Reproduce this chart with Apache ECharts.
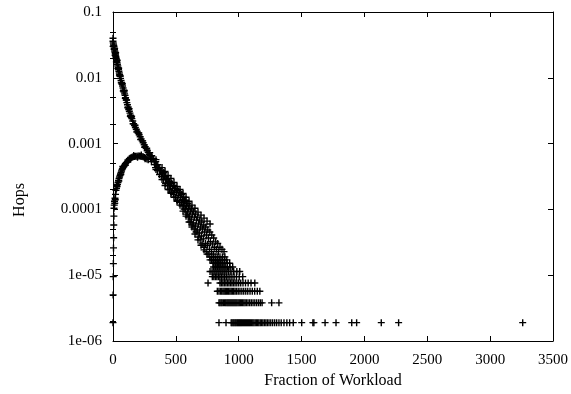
<!DOCTYPE html>
<html>
<head>
<meta charset="utf-8">
<script src="https://cdn.jsdelivr.net/npm/echarts@6/dist/echarts.min.js"></script>
<style>
html,body{margin:0;padding:0;background:#fff;}
#chart{width:571px;height:394px;}
</style>
</head>
<body>
<div id="chart"></div>
<script>
// ---------- data ----------
var xTitle = 'Fraction of Workload';
var yTitle = 'Hops';
var yTickLabels = ['1e-06', '1e-05', '0.0001', '0.001', '0.01', '0.1'];
var yMinorTicks = [2e-6, 5e-6, 2e-5, 5e-5, 2e-4, 5e-4, 2e-3, 5e-3, 0.02, 0.05];

// upper (decreasing) branch
var upperX = [0,2,4,6,8,10,12,14,16,18,20,22,24,26,28,30,32,35,38,41,44,47,50,53,56,60,64,68,72,76,80,84,88,92,96,100,105,110,115,120,125,130,135,140,145,150,157,164,171,178,185,192,200,208,216,224,232,240,248,256,264,272,280,288];
var upperY = [0.036,0.034,0.0325,0.031,0.0295,0.028,0.0268,0.0256,0.0245,0.0234,0.0223,0.0213,0.0203,0.0195,0.0187,0.0179,0.0171,0.0161,0.0151,0.0142,0.0134,0.0126,0.0118,0.0111,0.0105,0.0098,0.0091,0.0085,0.0080,0.0075,0.0070,0.0065,0.0061,0.0057,0.0054,0.0050,0.0046,0.0042,0.0039,0.0036,0.0033,0.0031,0.0029,0.0027,0.0025,0.0024,0.0022,0.0020,0.00188,0.00176,0.00165,0.00155,0.00145,0.00136,0.00127,0.00118,0.00110,0.00103,0.00096,0.00090,0.00084,0.00078,0.00073,0.00068];
// scattered points around the upper branch
var upperNoiseX = [0,1,5,9,13,17,21,27,33,39,45,51,58,66,74,82,90,98,108,118,128,138,148,160,175,190,205,220,236,252,268];
var upperNoiseY = [0.040,0.030,0.030,0.027,0.028,0.022,0.024,0.0175,0.0185,0.0138,0.0140,0.0110,0.0107,0.0084,0.0082,0.0063,0.0064,0.0049,0.0046,0.0035,0.0034,0.0026,0.0026,0.0020,0.0019,0.00150,0.00145,0.00115,0.00110,0.00088,0.00085];

// lower (rising) branch
var lowerX = [0,1,2,3,4,5,6,7,8,10,12,14,16,20,24,28,32,36,40,44,48,52,56,60,64,68,72,76,80,85,90,95,100,107,115,122,130,137,145,152,160,170,180,190,200,210,220,230,240,250,260,270,280];
var lowerY = [1.9e-6,5.0e-6,9.5e-6,1.5e-5,2.6e-5,3.7e-5,5.8e-5,7.9e-5,1.04e-4,1.16e-4,1.33e-4,1.24e-4,1.48e-4,1.69e-4,1.95e-4,2.1e-4,2.23e-4,2.4e-4,2.57e-4,2.75e-4,2.95e-4,3.1e-4,3.27e-4,3.45e-4,3.63e-4,3.83e-4,4.03e-4,4.17e-4,4.32e-4,4.45e-4,4.6e-4,4.8e-4,5.0e-4,5.15e-4,5.3e-4,5.6e-4,5.9e-4,6.0e-4,6.1e-4,6.2e-4,6.3e-4,6.35e-4,6.4e-4,6.45e-4,6.5e-4,6.5e-4,6.4e-4,6.35e-4,6.3e-4,6.15e-4,6.0e-4,5.85e-4,5.7e-4];
var lowerNoiseX = [18,30,46,62,78,98,118,140,165,195,225,255];
var lowerNoiseY = [1.4e-4,2.3e-4,2.7e-4,3.4e-4,4.5e-4,4.7e-4,5.6e-4,5.8e-4,6.6e-4,6.2e-4,6.7e-4,5.9e-4];

// merged, widening band
var bandX = [
292,296,299, 308,312,306, 324,328,331, 340,345,338, 356,361,354, 372,377,370, 388,393,386, 404,409,402, 420,425,418, 436,441,434, 451,456,449, 467,472,465, 483,488,481, 499,504,497, 515,520,513, 531,536,529,
547,552,545,550, 563,568,561,566, 579,584,577,582, 595,600,593,598, 611,616,609,614, 626,631,624,629, 642,647,640,645, 658,663,656,661, 674,679,672,677, 690,695,688,693, 706,711,704,709, 722,727,720,725, 738,743,736,741, 754,759,752,757,
770,775,768, 786,791,784, 801,806,799, 817,822, 833,838, 851, 867, 883];
var bandY = [
7.27e-4,6.55e-4,5.90e-4, 6.55e-4,5.90e-4,5.32e-4, 5.90e-4,5.32e-4,4.79e-4, 5.32e-4,4.79e-4,4.32e-4, 4.79e-4,4.32e-4,3.89e-4, 4.32e-4,3.89e-4,3.39e-4, 3.89e-4,3.51e-4,3.16e-4, 3.63e-4,3.16e-4,2.85e-4, 3.16e-4,2.85e-4,2.48e-4, 2.95e-4,2.57e-4,2.31e-4, 2.66e-4,2.31e-4,2.01e-4, 2.48e-4,2.09e-4,1.82e-4, 2.31e-4,1.95e-4,1.69e-4, 2.09e-4,1.82e-4,1.53e-4, 1.95e-4,1.64e-4,1.38e-4, 1.82e-4,1.53e-4,1.28e-4,
1.69e-4,1.42e-4,1.28e-4,1.12e-4, 1.53e-4,1.33e-4,1.16e-4,1.01e-4, 1.38e-4,1.16e-4,1.01e-4,8.47e-5, 1.24e-4,1.04e-4,9.08e-5,7.63e-5, 1.12e-4,9.40e-5,7.90e-5,6.42e-5, 1.01e-4,8.47e-5,7.12e-5,5.78e-5, 9.40e-5,7.63e-5,6.20e-5,5.03e-5, 8.47e-5,6.88e-5,5.58e-5,4.54e-5, 7.63e-5,5.99e-5,4.86e-5,3.81e-5, 6.88e-5,5.40e-5,4.38e-5,3.44e-5, 6.42e-5,5.03e-5,3.95e-5,2.99e-5, 5.78e-5,4.54e-5,3.56e-5,2.66e-5, 5.40e-5,4.09e-5,3.04e-5,2.28e-5, 4.86e-5,3.68e-5,2.85e-5,2.09e-5,
4.54e-5,3.23e-5,2.47e-5, 4.09e-5,2.99e-5,2.28e-5, 3.68e-5,2.66e-5,2.09e-5, 3.21e-5,2.47e-5, 3.04e-5,2.28e-5, 2.66e-5, 2.47e-5, 2.28e-5];
// outer edges of the band (stray points above and below)
var bandEdgeX = [342,342, 390,390, 414,414, 438,438, 461,461, 485,485, 509,509, 533,533, 557,557, 581,581, 605,605, 628,628, 652,652, 676,676, 700,700, 724,724, 748,748, 772,772];
var bandEdgeY = [5.70e-4,4.03e-4, 4.32e-4,2.85e-4, 3.76e-4,2.31e-4, 3.27e-4,2.01e-4, 2.95e-4,1.75e-4, 2.57e-4,1.53e-4, 2.24e-4,1.33e-4, 2.01e-4,1.16e-4, 1.75e-4,9.40e-5, 1.53e-4,7.90e-5, 1.33e-4,6.42e-5, 1.16e-4,5.40e-5, 1.04e-4,4.23e-5, 9.08e-5,3.44e-5, 8.18e-5,2.85e-5, 7.37e-5,2.43e-5, 6.64e-5,2.09e-5, 5.99e-5,1.71e-5];

// quantized low-count rows: one value per row, x positions in each row
var levelValues = [1.9e-6, 3.8e-6, 5.7e-6, 7.6e-6, 9.5e-6, 1.14e-5, 1.33e-5, 1.52e-5, 1.71e-5, 1.9e-5];
var levelX = [
 [843,899,940,947,955,962,970,977,985,992,1000,1007,1015,1022,1030,1038,1046,1054,1062,1070,1078,1086,1094,1103,1112,1121,1131,1141,1150,1160,1171,1181,1192,1204,1216,1228,1241,1255,1270,1286,1302,1320,1338,1360,1383,1405,1434,1501,1590,1598,1687,1774,1899,1938,2134,2272,3259],
 [843,851,860,868,878,888,897,906,914,922,930,938,946,954,962,970,978,986,995,1004,1013,1022,1031,1041,1051,1062,1074,1087,1100,1114,1128,1143,1158,1172,1186,1262,1320],
 [830,843,855,865,875,884,893,902,911,920,930,940,950,960,971,983,996,1010,1025,1040,1056,1072,1090,1108,1127,1148,1168],
 [756,851,862,874,886,898,910,922,934,946,958,971,985,1000,1016,1034,1054,1075,1098,1128],
 [790,802,814,826,838,850,862,875,888,901,915,930,946,963,982,1004,1032],
 [772,788,804,820,836,852,868,884,900,918,938,960,985,1008],
 [800,815,830,845,860,876,892,910,930,952],
 [795,811,826,841,857,873,890,908,928],
 [785,801,817,833,850,867,885,905],
 [770,786,802,818,834,851,870,890]
];

// ---------- build ----------
var points = [];
function addPairs(xs, ys) { xs.forEach(function (x, i) { points.push([x, ys[i]]); }); }
addPairs(upperX, upperY);
addPairs(upperNoiseX, upperNoiseY);
addPairs(lowerX, lowerY);
addPairs(lowerNoiseX, lowerNoiseY);
addPairs(bandX, bandY);
addPairs(bandEdgeX, bandEdgeY);
levelX.forEach(function (row, r) { row.forEach(function (x) { points.push([x, levelValues[r]]); }); });

var FONT = 'Liberation Serif';
var plus = 'path://M0,2.8H7V4.2H0Z M2.8,0H4.2V7H2.8Z';

function yLabel(v) {
  var idx = Math.round(Math.log(v) / Math.LN10) + 6;
  return yTickLabels[idx] !== undefined ? yTickLabels[idx] : '';
}

var axisLine = { show: true, onZero: false, lineStyle: { color: '#000', width: 1 } };

var chart = echarts.init(document.getElementById('chart'), null, { renderer: 'canvas' });
chart.setOption({
  animation: false,
  backgroundColor: '#fff',
  grid: { left: 113, right: 18, top: 12, bottom: 50, containLabel: false },
  xAxis: [
    {
      type: 'value', min: 0, max: 3500, interval: 500, position: 'bottom',
      axisLine: axisLine,
      axisTick: { show: true, inside: true, length: 5, lineStyle: { color: '#000' } },
      splitLine: { show: false },
      axisLabel: { color: '#000', fontFamily: FONT, fontSize: 15, margin: 12, formatter: function (v) { return String(v); } },
      name: xTitle, nameLocation: 'middle', nameGap: 32,
      nameTextStyle: { color: '#000', fontFamily: FONT, fontSize: 16 }
    },
    {
      type: 'value', min: 0, max: 3500, interval: 500, position: 'top',
      axisLine: axisLine,
      axisTick: { show: true, inside: true, length: 5, lineStyle: { color: '#000' } },
      splitLine: { show: false },
      axisLabel: { show: false }
    }
  ],
  yAxis: [
    {
      type: 'log', logBase: 10, min: 1e-6, max: 0.1, position: 'left',
      axisLine: axisLine,
      axisTick: { show: true, inside: true, length: 5, lineStyle: { color: '#000' } },
      splitLine: { show: false },
      minorTick: { show: false },
      axisLabel: { color: '#000', fontFamily: FONT, fontSize: 15, margin: 11, formatter: yLabel }
    },
    {
      type: 'log', logBase: 10, min: 1e-6, max: 0.1, position: 'left',
      axisLine: { show: false },
      axisTick: { show: true, inside: true, length: 3, customValues: yMinorTicks, lineStyle: { color: '#000' } },
      splitLine: { show: false },
      axisLabel: { show: false }
    },
    {
      type: 'log', logBase: 10, min: 1e-6, max: 0.1, position: 'right',
      axisLine: axisLine,
      axisTick: { show: true, inside: true, length: 5, lineStyle: { color: '#000' } },
      splitLine: { show: false },
      axisLabel: { show: false }
    },
    {
      type: 'log', logBase: 10, min: 1e-6, max: 0.1, position: 'right',
      axisLine: { show: false },
      axisTick: { show: true, inside: true, length: 3, customValues: yMinorTicks, lineStyle: { color: '#000' } },
      splitLine: { show: false },
      axisLabel: { show: false }
    }
  ],
  graphic: [
    {
      type: 'text', x: 20, y: 200, rotation: Math.PI / 2,
      style: { text: yTitle, fill: '#000', font: '16px "Liberation Serif"', textAlign: 'center', textVerticalAlign: 'middle' }
    }
  ],
  series: [
    {
      type: 'scatter', xAxisIndex: 0, yAxisIndex: 0,
      symbol: plus, symbolSize: 7,
      itemStyle: { color: '#000', opacity: 1 },
      emphasis: { disabled: true },
      silent: true,
      data: points
    }
  ]
});
</script>
</body>
</html>
